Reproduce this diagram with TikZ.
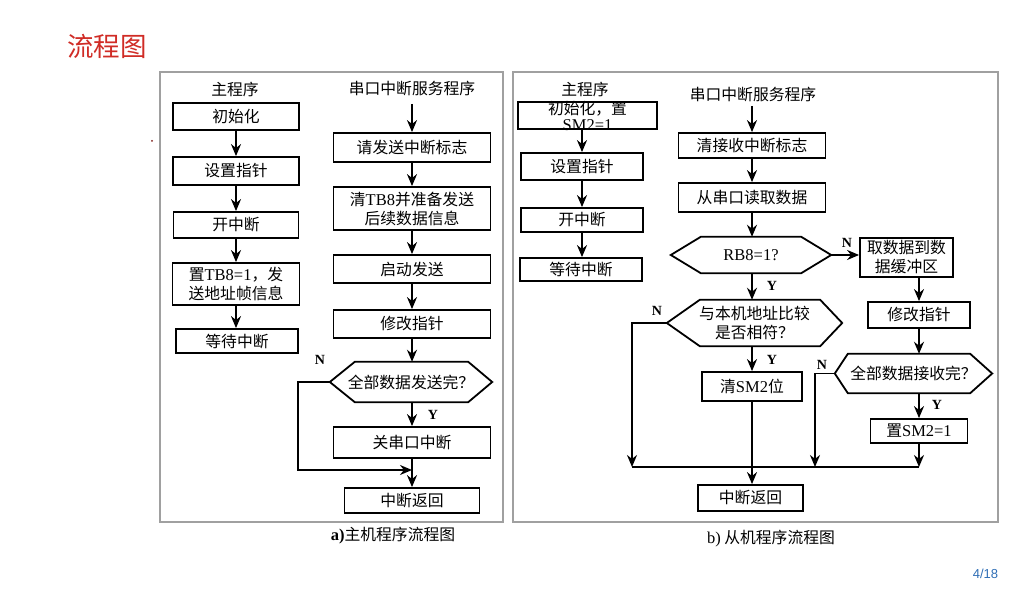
\documentclass[tikz,border=0pt]{standalone}
\usepackage{fontspec}
\setmainfont{Noto Sans CJK SC}
\newfontfamily\latf{Liberation Serif}
\newfontfamily\pgsans{Liberation Sans}
\usetikzlibrary{arrows.meta}
\newcommand\lt[1]{{\latf\fontsize{16.5}{19}\selectfont #1}}
\newcommand\bodyfs{\fontsize{15.8}{19}\selectfont}
\definecolor{titlered}{RGB}{208,44,38}
\definecolor{pageblue}{RGB}{47,110,181}
\definecolor{framegray}{RGB}{160,160,160}
\newcommand\hexpath[3]{\draw[boxline] (#1.west) -- ([xshift=#2]#1.north west) -- ([xshift=-#3]#1.north east) -- (#1.east) -- ([xshift=-#3]#1.south east) -- ([xshift=#2]#1.south west) -- cycle;}
\begin{document}
\begin{tikzpicture}[x=1pt,y=-1pt,
  boxline/.style={line width=1.8pt, line join=miter},
  box/.style={draw, boxline, inner sep=0pt, align=center, font=\bodyfs},
  hexnode/.style={inner sep=0pt, align=center, font=\bodyfs},
  frame/.style={draw=framegray, line width=1.3pt, inner sep=0pt},
  arr/.style={line width=1.8pt, -{Stealth[length=12pt,width=10pt]}},
  conn/.style={line width=1.8pt},
  lbl/.style={font=\latf\bfseries\fontsize{14}{14}\selectfont, inner sep=0pt},
  head/.style={font=\bodyfs, inner sep=0pt}]
\useasboundingbox (0,0) rectangle (1023,593);

% title, page number
\node[font=\fontsize{26.5}{30}\selectfont, text=titlered, inner sep=0pt] (title) at (107,46) {流程图};
\node[font=\pgsans\fontsize{13}{14}\selectfont, text=pageblue, inner sep=0pt] (pg) at (985.5,574) {4/18};
\fill[titlered!60!black] (152,141) circle (1pt);

% frames
\node[frame, minimum width=343pt, minimum height=450pt] (fa) at (331.5,297) {};
\node[frame, minimum width=485pt, minimum height=450pt] (fb) at (755.5,297) {};

% captions
\node[font=\bodyfs, inner sep=0pt] (capa) at (393,536) {\lt{\bfseries a)}主机程序流程图};
\node[font=\bodyfs, inner sep=0pt] (capb) at (771,539) {\lt{b)} 从机程序流程图};

% ===== panel a =====
\node[head] (ha1) at (235,89) {主程序};
\node[head] (ha2) at (412,89) {串口中断服务程序};

\node[box, minimum width=126pt, minimum height=27pt] (m1) at (236,116.5) {初始化};
\node[box, minimum width=126pt, minimum height=28pt] (m2) at (236,171) {设置指针};
\node[box, minimum width=125pt, minimum height=26pt] (m3) at (236,225) {开中断};
\node[box, minimum width=127pt, minimum height=42pt] (m4) at (236,284) {置\lt{TB8=1}，发\\送地址帧信息};
\node[box, minimum width=122pt, minimum height=24pt] (m5) at (237,341) {等待中断};
\draw[arr] (m1.south) -- (m2.north);
\draw[arr] (m2.south) -- (m3.north);
\draw[arr] (m3.south) -- (m4.north);
\draw[arr] (m4.south) -- (m5.north -| m4.south);

\coordinate (sTop) at (412,104);
\node[box, minimum width=157pt, minimum height=29pt] (s1) at (412,147.5) {请发送中断标志};
\node[box, minimum width=157pt, minimum height=43pt] (s2) at (412,208.5) {清\lt{TB8}并准备发送\\后续数据信息};
\node[box, minimum width=157pt, minimum height=28pt] (s3) at (412,269) {启动发送};
\node[box, minimum width=157pt, minimum height=28pt] (s4) at (412,324) {修改指针};
\node[hexnode, minimum width=162pt, minimum height=40pt] (s5) at (411,382) {全部数据发送完？};
\hexpath{s5}{25pt}{24pt}
\node[box, minimum width=157pt, minimum height=31pt] (s6) at (412,442.5) {关串口中断};
\node[box, minimum width=135pt, minimum height=25pt] (s7) at (412,500.5) {中断返回};
\coordinate (cL) at (298,470);
\coordinate (jA) at (412,470);
\draw[arr] (sTop) -- (s1.north);
\draw[arr] (s1.south) -- (s2.north);
\draw[arr] (s2.south) -- (s3.north);
\draw[arr] (s3.south) -- (s4.north);
\draw[arr] (s4.south) -- (s5.north -| s4.south);
\draw[arr] (s5.south -| s4.south) -- (s6.north);
\draw[arr] (s6.south) -- (s7.north);
\draw[arr] (s5.west) -| (cL) -- (jA);
\node[lbl] (na) at (320,360) {N};
\node[lbl] (ya) at (433,415) {Y};

% ===== panel b =====
\node[head] (hb1) at (585,89) {主程序};
\node[head] (hb2) at (753,94) {串口中断服务程序};

\node[box, minimum width=139pt, minimum height=27pt, inner ysep=-2.5pt, font=\fontsize{15.8}{16}\selectfont] (r1) at (587.5,115.5) {初始化，置\\\lt{SM2=1}};
\node[box, minimum width=122pt, minimum height=27pt] (r2) at (582,166.5) {设置指针};
\node[box, minimum width=122pt, minimum height=24pt] (r3) at (582,220) {开中断};
\node[box, minimum width=122pt, minimum height=23pt] (r4) at (581,269.5) {等待中断};
\draw[arr] (r1.south -| r2.north) -- (r2.north);
\draw[arr] (r2.south) -- (r3.north);
\draw[arr] (r3.south) -- (r4.north -| r3.south);

\coordinate (tTop) at (752,106);
\node[box, minimum width=147pt, minimum height=25pt] (t1) at (752,145.5) {清接收中断标志};
\node[box, minimum width=147pt, minimum height=29pt] (t2) at (752,197.5) {从串口读取数据};
\node[hexnode, minimum width=160pt, minimum height=36pt] (t3) at (751,255) {\lt{RB8=1?}};
\hexpath{t3}{30pt}{30pt}
\node[box, minimum width=93pt, minimum height=39pt] (t4) at (906.5,257.5) {取数据到数\\据缓冲区};
\node[hexnode, minimum width=175pt, minimum height=46pt] (t5) at (754.5,323) {与本机地址比较\\是否相符？};
\hexpath{t5}{33pt}{22pt}
\node[box, minimum width=100pt, minimum height=29pt] (t6) at (752,386.5) {清\lt{SM2}位};
\node[box, minimum width=105pt, minimum height=26pt] (t7) at (750.5,498) {中断返回};
\node[box, minimum width=102pt, minimum height=26pt] (u1) at (919,315) {修改指针};
\node[hexnode, minimum width=157pt, minimum height=39pt] (u2) at (913.5,373.5) {全部数据接收完？};
\hexpath{u2}{13pt}{22pt}
\node[box, minimum width=97pt, minimum height=24pt] (u3) at (919,431) {置\lt{SM2=1}};

\coordinate (jL) at (632,467);
\coordinate (jM) at (815,467);
\coordinate (jR) at (919,467);

\draw[arr] (tTop) -- (t1.north);
\draw[arr] (t1.south) -- (t2.north);
\draw[arr] (t2.south) -- (t3.north -| t2.south);
\draw[arr] (t3.south -| t2.south) -- (t5.north -| t2.south);
\draw[arr] (t5.south -| t2.south) -- (t6.north);
\draw[arr] (t6.south) -- (t7.north -| t6.south);
\draw[arr] (t3.east) -- (t4.west |- t3.east);
\draw[arr] (t4.south -| u1.north) -- (u1.north);
\draw[arr] (u1.south) -- (u2.north -| u1.south);
\draw[arr] (u2.south -| u1.south) -- (u3.north);
\draw[arr] (u3.south) -- (jR);
\draw[arr] (u2.west) -| (jM);
\draw[arr] (t5.west) -| (jL);
\draw[conn] (jL) -- (jR);

\node[lbl] (nb1) at (847,243) {N};
\node[lbl] (yb1) at (772,286) {Y};
\node[lbl] (nb2) at (657,311) {N};
\node[lbl] (yb2) at (772,360) {Y};
\node[lbl] (nb3) at (822,365) {N};
\node[lbl] (yb3) at (937,405) {Y};
\end{tikzpicture}
\end{document}
